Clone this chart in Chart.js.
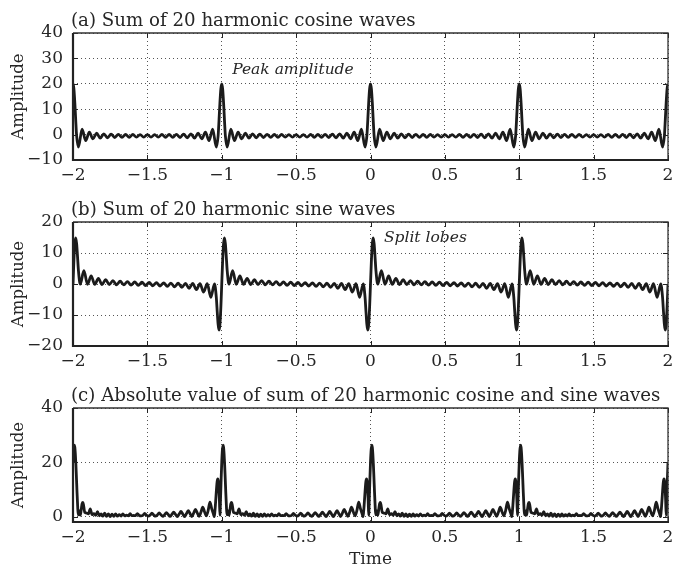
<!DOCTYPE html>
<html>
<head>
<meta charset="utf-8">
<script src="https://cdn.jsdelivr.net/npm/chart.js@4.4.1/dist/chart.umd.min.js"></script>
<style>
  body { margin: 0; background: #fff; }
  #wrap { position: relative; width: 673px; height: 569px; }
  canvas { position: absolute; left: 0; }
</style>
</head>
<body>
<div id="wrap">
  <canvas id="chartA" width="673" height="190" style="top:0px"></canvas>
  <canvas id="chartB" width="673" height="190" style="top:190px"></canvas>
  <canvas id="chartC" width="673" height="189" style="top:380px"></canvas>
</div>
<script>
// ---- data (one period, it repeats every 1 s) ----
const xTicks = [-2, -1.5, -1, -0.5, 0, 0.5, 1, 1.5, 2];
const cycleStarts = [-2, -1, 0, 1];

const yTicksA = [-10, 0, 10, 20, 30, 40];
const yTicksB = [-20, -10, 0, 10, 20];
const yTicksC = [0, 20, 40];

// (a) sum of cosines
const tCos = [0, 0.006, 0.0122, 0.018, 0.0244, 0.0366, 0.0610, 0.0854, 0.1098, 0.1341,
  0.1585, 0.1829, 0.2073, 0.2317, 0.2561, 0.2805, 0.3049, 0.3293, 0.3537, 0.3780,
  0.4024, 0.4268, 0.4512, 0.4756, 0.5, 0.5244, 0.5488, 0.5732, 0.5976, 0.6220,
  0.6463, 0.6707, 0.6951, 0.7195, 0.7439, 0.7683, 0.7927, 0.8171, 0.8415, 0.8659,
  0.8902, 0.9146, 0.9390, 0.9634, 0.9756, 0.982, 0.9878, 0.994];
const cosSum = [20, 18.0, 12.6, 6.0, -0.5, -4.9, 2.1, -2.4, 1.0, -1.7,
  0.55, -1.4, 0.3, -1.25, 0.2, -1.15, 0.1, -1.1, 0.05, -1.05,
  0.03, -1.0, 0.0, -1.0, 0.0, -1.0, 0.0, -1.0, 0.03, -1.05,
  0.05, -1.1, 0.1, -1.15, 0.2, -1.25, 0.3, -1.4, 0.55, -1.7,
  1.0, -2.4, 2.1, -4.9, -0.5, 6.0, 12.6, 18.0];

// (b) sum of sines
const tSin = [0, 0.006, 0.0122, 0.0181, 0.0244, 0.030, 0.0366, 0.0488, 0.0732, 0.0976,
  0.1220, 0.1463, 0.1707, 0.1951, 0.2195, 0.2439, 0.2683, 0.2927, 0.3171, 0.3415,
  0.3659, 0.3902, 0.4146, 0.4390, 0.4634, 0.4878, 0.5122, 0.5366, 0.5610, 0.5854,
  0.6098, 0.6341, 0.6585, 0.6829, 0.7073, 0.7317, 0.7561, 0.7805, 0.8049, 0.8293,
  0.8537, 0.8780, 0.9024, 0.9268, 0.9512, 0.9634, 0.970, 0.9756, 0.9819, 0.9878,
  0.994];
const sinSum = [0, 7.5, 13.05, 14.9, 13.05, 9.2, 4.3, -0.04, 4.3, -0.08,
  2.6, -0.12, 1.8, -0.16, 1.4, -0.2, 1.1, -0.25, 0.9, -0.3,
  0.77, -0.35, 0.66, -0.41, 0.56, -0.48, 0.48, -0.56, 0.41, -0.66,
  0.35, -0.77, 0.3, -0.92, 0.25, -1.1, 0.2, -1.4, 0.16, -1.8,
  0.12, -2.6, 0.08, -4.3, 0.04, -4.3, -9.2, -13.05, -14.9, -13.05,
  -7.5];

// (c) |cos + sin|
const tAbs = [0, 0.0039, 0.0089, 0.0122, 0.0155, 0.0194, 0.0233, 0.0272, 0.0311, 0.0349,
  0.0388, 0.0427, 0.0466, 0.0488, 0.0549, 0.0610, 0.0671, 0.0793, 0.0915, 0.1037,
  0.1159, 0.1280, 0.1402, 0.1524, 0.1646, 0.1768, 0.1890, 0.2012, 0.2134, 0.2256,
  0.2378, 0.2500, 0.2622, 0.2744, 0.2866, 0.2988, 0.3110, 0.3232, 0.3354, 0.3476,
  0.3598, 0.3720, 0.3841, 0.3963, 0.4085, 0.4207, 0.4329, 0.4451, 0.4573, 0.4695,
  0.4817, 0.4939, 0.5061, 0.5183, 0.5305, 0.5427, 0.5549, 0.5671, 0.5793, 0.5915,
  0.6037, 0.6159, 0.6280, 0.6402, 0.6524, 0.6646, 0.6768, 0.6890, 0.7012, 0.7134,
  0.7256, 0.7378, 0.7500, 0.7622, 0.7744, 0.7866, 0.7988, 0.8110, 0.8232, 0.8354,
  0.8476, 0.8598, 0.8720, 0.8841, 0.8963, 0.9085, 0.9207, 0.9329, 0.9451, 0.9495,
  0.9534, 0.9573, 0.9634, 0.9689, 0.9732, 0.9767, 0.9806, 0.9845, 0.9878, 0.9922,
  0.9961];
const absSum = [20, 24.2, 26.3, 25.6, 23.3, 19.2, 14.1, 8.8, 4.1, 0.6,
  1.5, 2.1, 1.3, 0.5, 2.4, 4.7, 5.2, 1.5, 1.3, 1.0,
  2.8, 0.7, 1.1, 0.47, 1.8, 0.3, 1.0, 0.18, 1.27, 0.09,
  1.0, 0, 0.93, 0.07, 1.0, 0.13, 0.69, 0.19, 1.03, 0.24,
  0.52, 0.29, 1.07, 0.33, 0.39, 0.37, 1.12, 0.41, 0.28, 0.45,
  1.18, 0.49, 0.2, 0.53, 1.26, 0.57, 0.13, 0.61, 1.36, 0.65,
  0.08, 0.69, 1.48, 0.74, 0.04, 0.78, 1.64, 0.84, 0.01, 0.9,
  1.86, 0.96, 0, 1.04, 2.17, 1.13, 0.01, 1.24, 2.65, 1.37,
  0.07, 1.55, 3.5, 1.8, 0.23, 2.2, 5.3, 2.8, 0.75, 0,
  1.6, 4.2, 9.2, 12.9, 13.9, 13.1, 10.4, 5.7, 0.5, 7.3,
  14.1];

// ---- helpers ----
const FONT = '"DejaVu Serif", serif';
const INK = '#222';
const TXT = '#262626';

const minus = (v) => String(v).replace('-', '\u2212');

// repeat the period read above over the four cycles shown
const tile = (tArr, vArr) => {
  const pts = [];
  cycleStarts.forEach((s) => {
    tArr.forEach((t, i) => pts.push({ x: s + t, y: vArr[i] }));
  });
  pts.push({ x: cycleStarts[cycleStarts.length - 1] + 1, y: vArr[0] });
  return pts;
};

const framePlugin = {
  id: 'frame',
  afterDraw(chart, args, opts) {
    const { ctx, chartArea: a, scales } = chart;
    const x = scales.x;
    const y = scales.y;
    ctx.save();

    // inside tick marks on all four sides
    ctx.strokeStyle = INK;
    ctx.lineWidth = 1;
    ctx.beginPath();
    xTicks.forEach((v) => {
      const px = Math.round(x.getPixelForValue(v)) + 0.5;
      ctx.moveTo(px, a.bottom); ctx.lineTo(px, a.bottom - 5);
      ctx.moveTo(px, a.top); ctx.lineTo(px, a.top + 5);
    });
    y.ticks.forEach((t) => {
      const py = Math.round(y.getPixelForValue(t.value)) + 0.5;
      ctx.moveTo(a.left, py); ctx.lineTo(a.left + 5, py);
      ctx.moveTo(a.right, py); ctx.lineTo(a.right - 5, py);
    });
    ctx.stroke();

    // box: thin top/right, heavy left/bottom
    ctx.strokeStyle = '#333';
    ctx.lineWidth = 1.3;
    ctx.beginPath();
    ctx.moveTo(a.left, a.top); ctx.lineTo(a.right, a.top); ctx.lineTo(a.right, a.bottom);
    ctx.stroke();
    ctx.strokeStyle = INK;
    ctx.lineWidth = 2.2;
    ctx.beginPath();
    ctx.moveTo(a.left, a.top); ctx.lineTo(a.left, a.bottom); ctx.lineTo(a.right + 1, a.bottom);
    ctx.stroke();

    // panel title
    ctx.fillStyle = TXT;
    ctx.font = '18.2px ' + FONT;
    ctx.textAlign = 'left';
    ctx.textBaseline = 'alphabetic';
    ctx.fillText(opts.title, a.left - 2, a.top - 7);

    // y label
    ctx.save();
    ctx.font = '16.5px ' + FONT;
    ctx.translate(19, (a.top + a.bottom) / 2);
    ctx.rotate(-Math.PI / 2);
    ctx.textAlign = 'center';
    ctx.textBaseline = 'middle';
    ctx.fillText('Amplitude', 0, 0);
    ctx.restore();

    // annotation
    if (opts.note) {
      ctx.font = 'italic 15.5px ' + FONT;
      ctx.textAlign = 'left';
      ctx.textBaseline = 'middle';
      ctx.fillText(opts.note.text, x.getPixelForValue(opts.note.x), y.getPixelForValue(opts.note.y));
    }

    // x label
    if (opts.xLabel) {
      ctx.font = '17px ' + FONT;
      ctx.textAlign = 'center';
      ctx.textBaseline = 'alphabetic';
      ctx.fillText(opts.xLabel, (a.left + a.right) / 2, a.bottom + 42);
    }
    ctx.restore();
  },
};

const makeChart = (id, points, yMin, yMax, yTicks, pad, frameOpts) => {
  const ctx = document.getElementById(id).getContext('2d');
  return new Chart(ctx, {
    type: 'line',
    data: {
      datasets: [
        {
          data: points,
          borderColor: '#1b1b1b',
          borderWidth: 2.8,
          pointRadius: 0,
          fill: false,
          cubicInterpolationMode: 'monotone',
        },
      ],
    },
    options: {
      responsive: false,
      animation: false,
      devicePixelRatio: 1,
      layout: { padding: pad },
      plugins: {
        legend: { display: false },
        tooltip: { enabled: false },
        frame: frameOpts,
      },
      scales: {
        x: {
          type: 'linear',
          min: -2,
          max: 2,
          afterBuildTicks: (s) => { s.ticks = xTicks.map((v) => ({ value: v })); },
          afterFit: (s) => { s.height = 30; s.paddingLeft = 0; s.paddingRight = 0; },
          ticks: {
            autoSkip: false,
            maxRotation: 0,
            padding: 5,
            color: TXT,
            font: { family: FONT, size: 17 },
            callback: (v) => minus(v),
          },
          grid: { color: '#555', lineWidth: 1, drawTicks: false },
          border: { display: false, dash: [1, 3] },
        },
        y: {
          min: yMin,
          max: yMax,
          afterBuildTicks: (s) => { s.ticks = yTicks.map((v) => ({ value: v })); },
          afterFit: (s) => { s.width = 60; s.paddingTop = 0; s.paddingBottom = 0; },
          ticks: {
            padding: 10,
            color: TXT,
            font: { family: FONT, size: 17 },
            callback: (v) => minus(v),
          },
          grid: { color: '#555', lineWidth: 1, drawTicks: false },
          border: { display: false, dash: [1, 3] },
        },
      },
    },
    plugins: [framePlugin],
  });
};

makeChart('chartA', tile(tCos, cosSum), -10, 40, yTicksA,
  { left: 13, right: 5, top: 33, bottom: 0 },
  { title: '(a) Sum of 20 harmonic cosine waves', note: { text: 'Peak amplitude', x: -0.93, y: 25.5 } });

makeChart('chartB', tile(tSin, sinSum), -20, 20, yTicksB,
  { left: 13, right: 5, top: 32, bottom: 4 },
  { title: '(b) Sum of 20 harmonic sine waves', note: { text: 'Split lobes', x: 0.09, y: 14.8 } });

makeChart('chartC', tile(tAbs, absSum), -2, 40, yTicksC,
  { left: 13, right: 5, top: 28, bottom: 17 },
  { title: '(c) Absolute value of sum of 20 harmonic cosine and sine waves', xLabel: 'Time' });
</script>
</body>
</html>
